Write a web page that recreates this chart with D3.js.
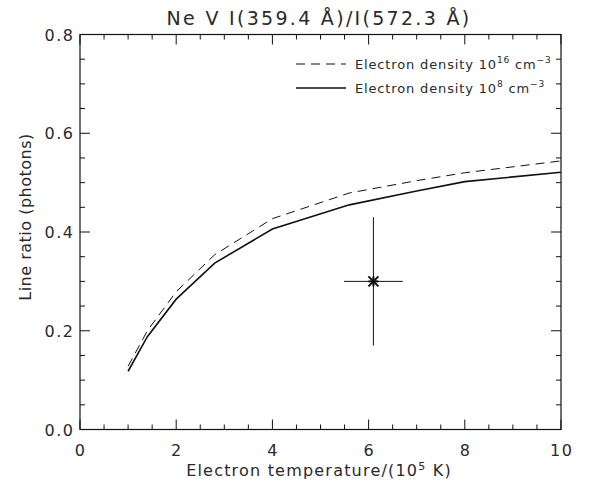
<!DOCTYPE html>
<html><head><meta charset="utf-8">
<script src="https://cdn.jsdelivr.net/npm/d3@7"></script>
<style>body{margin:0;background:#fff}svg{display:block}text{font-family:"DejaVu Sans",sans-serif;fill:#2a2a2a}</style>
</head><body><svg id="c" width="589" height="486"></svg>
<script>
const temps = [1.0, 1.4, 2.0, 2.8, 4.0, 5.6, 7.0, 8.0, 10.0];
const ratioHighDensity = [0.128, 0.200, 0.279, 0.354, 0.427, 0.479, 0.504, 0.520, 0.544];
const ratioLowDensity  = [0.118, 0.188, 0.264, 0.337, 0.406, 0.455, 0.483, 0.502, 0.521];
const obsT = [6.1], obsTerr = [0.61], obsR = [0.30], obsRerr = [0.13];
const xTicks = [0, 2, 4, 6, 8, 10];
const yTicks = [0.0, 0.2, 0.4, 0.6, 0.8];

const svg = d3.select("#c");
const L = 80, R = 561, T = 34.5, B = 429.5;
const x = d3.scaleLinear().domain([0, 10]).range([L, R]);
const y = d3.scaleLinear().domain([0, 0.8]).range([B, T]);
const ink = "#111";

// frame
svg.append("rect").attr("x", L).attr("y", T).attr("width", R - L).attr("height", B - T)
  .attr("fill", "none").attr("stroke", ink).attr("stroke-width", 1.2);

// ticks
const xMinor = d3.range(0, 10.001, 0.5);
const yMinor = d3.range(0, 0.8001, 0.05);
const g = svg.append("g").attr("stroke", ink).attr("stroke-width", 1);
xMinor.forEach(v => {
  const major = Math.abs(v / 2 - Math.round(v / 2)) < 1e-6;
  const len = major ? 10 : 5;
  g.append("line").attr("x1", x(v)).attr("x2", x(v)).attr("y1", B).attr("y2", B - len);
  g.append("line").attr("x1", x(v)).attr("x2", x(v)).attr("y1", T).attr("y2", T + len);
});
yMinor.forEach(v => {
  const major = Math.abs(v / 0.2 - Math.round(v / 0.2)) < 1e-6;
  const len = major ? 10 : 5;
  g.append("line").attr("x1", L).attr("x2", L + len).attr("y1", y(v)).attr("y2", y(v));
  g.append("line").attr("x1", R).attr("x2", R - len).attr("y1", y(v)).attr("y2", y(v));
});

// tick labels
svg.selectAll(".xl").data(xTicks).join("text").attr("x", d => x(d) + 0.7).attr("y", 456)
  .attr("text-anchor", "middle").attr("font-size", 16).attr("letter-spacing", 1.5).text(d => d);
svg.selectAll(".yl").data(yTicks).join("text").attr("x", 74.5).attr("y", d => y(d) + 6)
  .attr("text-anchor", "end").attr("font-size", 16).attr("letter-spacing", 1.5).text(d => d.toFixed(1));

// titles
svg.append("text").attr("x", 319).attr("y", 25).attr("text-anchor", "middle").attr("font-size", 19)
  .attr("letter-spacing", 2.3).text("Ne V I(359.4 Å)/I(572.3 Å)");
const xt = svg.append("text").attr("x", 319).attr("y", 476).attr("text-anchor", "middle").attr("font-size", 16)
  .attr("letter-spacing", 1.2);
xt.append("tspan").text("Electron temperature/(10");
xt.append("tspan").attr("dy", -6).attr("font-size", 11).text("5");
xt.append("tspan").attr("dy", 6).text(" K)");
svg.append("text").attr("transform", "translate(31,217) rotate(-90)").attr("text-anchor", "middle")
  .attr("font-size", 16).attr("letter-spacing", 0.5).text("Line ratio (photons)");

// curves
const line = d3.line().x(d => x(d[0])).y(d => y(d[1]));
svg.append("path").datum(temps.map((t, i) => [t, ratioHighDensity[i]])).attr("d", line)
  .attr("fill", "none").attr("stroke", ink).attr("stroke-width", 1).attr("stroke-dasharray", "9,6");
svg.append("path").datum(temps.map((t, i) => [t, ratioLowDensity[i]])).attr("d", line)
  .attr("fill", "none").attr("stroke", ink).attr("stroke-width", 1.6);

// observation with error bars
obsT.forEach((t, i) => {
  const cx = x(t), cy = y(obsR[i]);
  svg.append("line").attr("x1", x(t - obsTerr[i])).attr("x2", x(t + obsTerr[i])).attr("y1", cy).attr("y2", cy)
    .attr("stroke", ink).attr("stroke-width", 1);
  svg.append("line").attr("x1", cx).attr("x2", cx).attr("y1", y(obsR[i] + obsRerr[i])).attr("y2", y(obsR[i] - obsRerr[i]))
    .attr("stroke", ink).attr("stroke-width", 1);
  const s = 5;
  [[-s, 0, s, 0], [0, -s, 0, s], [-s, -s, s, s], [-s, s, s, -s]].forEach(p =>
    svg.append("line").attr("x1", cx + p[0]).attr("y1", cy + p[1]).attr("x2", cx + p[2]).attr("y2", cy + p[3])
      .attr("stroke", ink).attr("stroke-width", 2));
});

// legend
const leg = [
  {dash: "9,6", w: 1, exp: "16"},
  {dash: null, w: 1.4, exp: "8"}
];
leg.forEach((d, i) => {
  const ly = 64 + i * 24;
  svg.append("line").attr("x1", 296).attr("x2", 346).attr("y1", ly).attr("y2", ly)
    .attr("stroke", ink).attr("stroke-width", d.w).attr("stroke-dasharray", d.dash);
  const t = svg.append("text").attr("x", 355).attr("y", ly + 5).attr("font-size", 13).attr("letter-spacing", 0.85);
  t.append("tspan").text("Electron density 10");
  t.append("tspan").attr("dy", -6).attr("font-size", 9).text(d.exp);
  t.append("tspan").attr("dy", 6).text(" cm");
  t.append("tspan").attr("dy", -6).attr("font-size", 9).text("−3");
});
</script></body></html>
